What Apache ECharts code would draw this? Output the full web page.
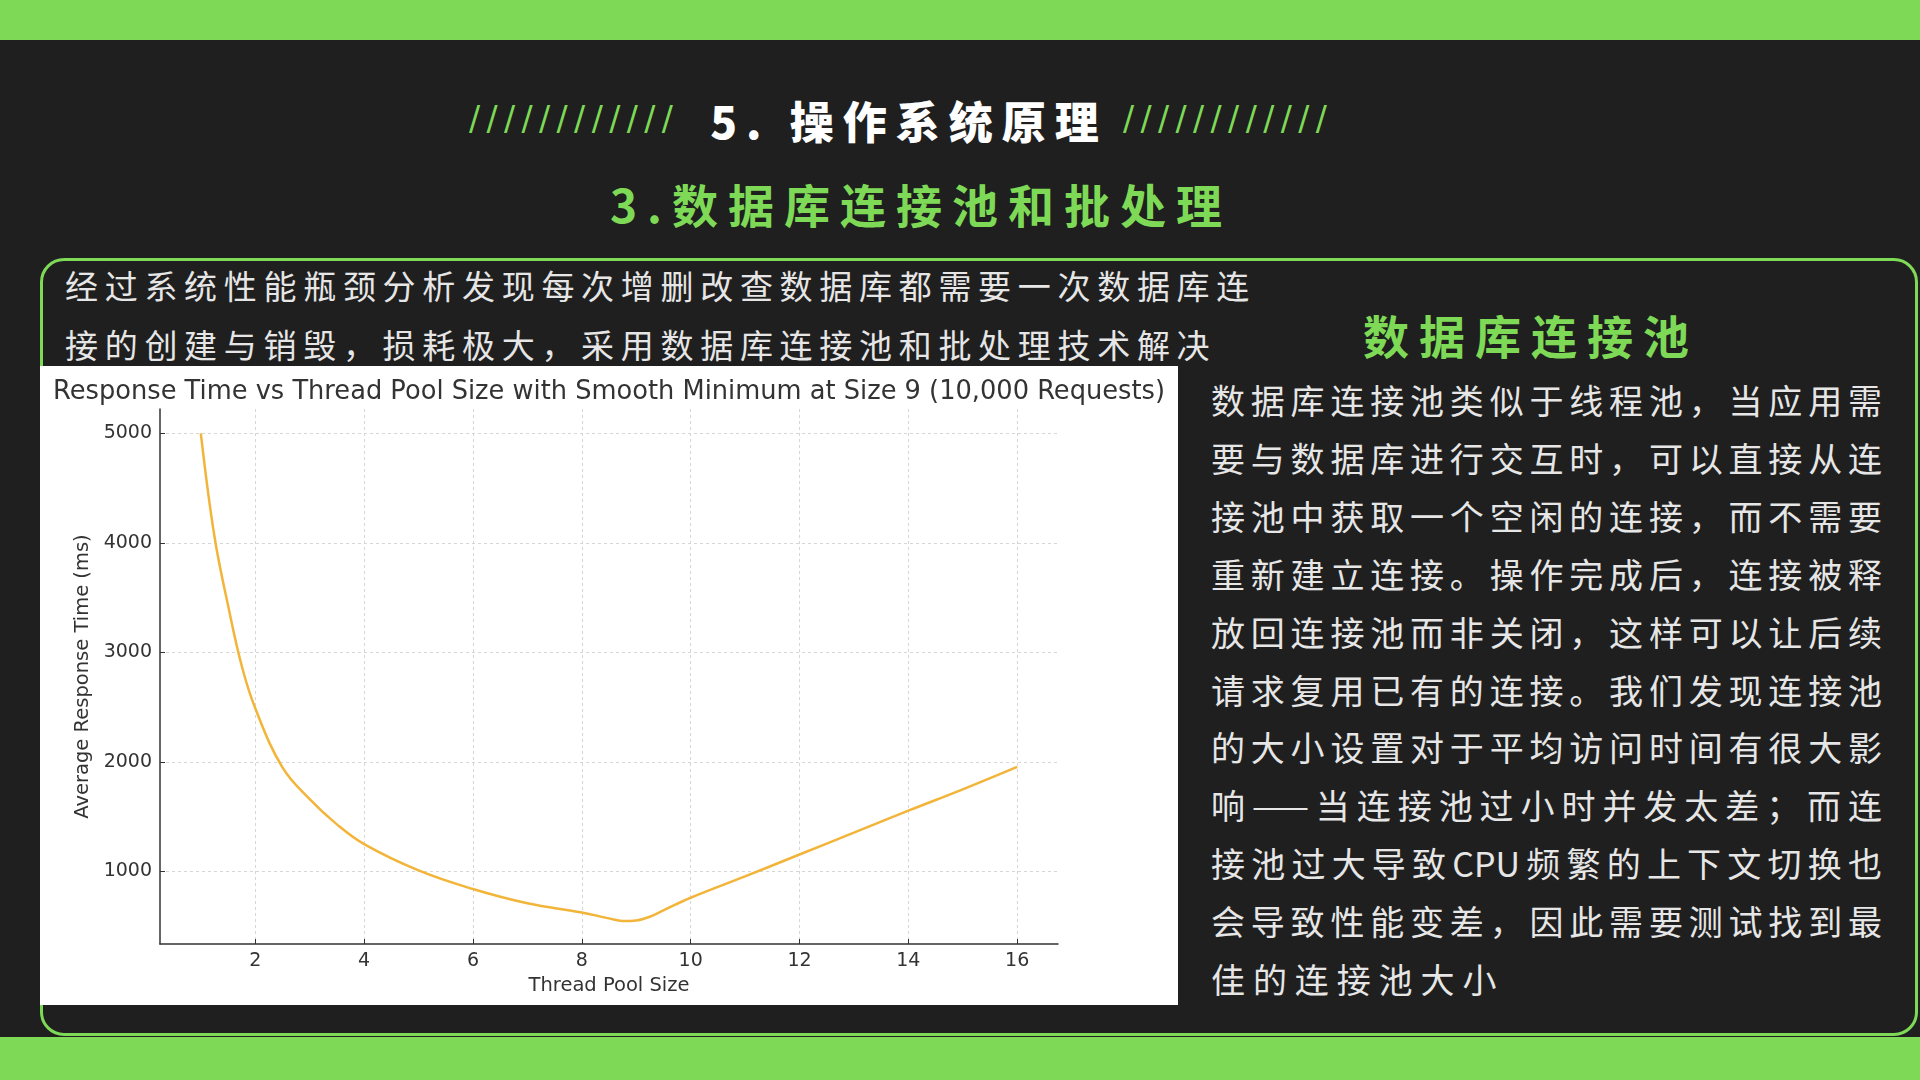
<!DOCTYPE html>
<html>
<head>
<meta charset="utf-8">
<script src="https://cdn.jsdelivr.net/npm/echarts@6/dist/echarts.min.js"></script>
<style>
  html, body { margin: 0; padding: 0; }
  body {
    width: 1920px; height: 1080px; position: relative; overflow: hidden;
    background: #1f1f1f; font-family: "Noto Sans CJK SC", sans-serif;
  }
  .abs { position: absolute; white-space: nowrap; }
  .bar { position: absolute; left: 0; width: 1920px; background: #7ed957; }
  .slash { color: #7ed957; font-family: "DejaVu Sans"; font-size: 33px; letter-spacing: 6.4px; line-height: 40px; }
  .intro { left: 65px; color: #e6e6e6; font-size: 33px; letter-spacing: 6.7px; line-height: 58px; }
  .para { left: 1211px; width: 671px; color: #e6e6e6; font-size: 34px; line-height: 58px;
          text-align: justify; text-align-last: justify; }
  #chart { position: absolute; left: 40px; top: 366px; width: 1138px; height: 639px; background: #fff; }
</style>
</head>
<body>
<div class="bar" style="top:0;height:40px"></div>
<div class="bar" style="top:1037px;height:43px"></div>

<div class="abs slash" style="left:469px;top:99px">////////////</div>
<div class="abs slash" style="left:1123px;top:99px">////////////</div>
<div class="abs" style="left:652px;width:496px;top:92px;line-height:56px;text-align:center;color:#fff;font-size:44px;font-weight:900;letter-spacing:9px;padding-left:9px">5. 操作系统原理</div>
<div class="abs" style="left:554px;width:714px;top:175px;line-height:56px;text-align:center;color:#7ed957;font-size:46px;font-weight:700;letter-spacing:10px;padding-left:10px">3.数据库连接池和批处理</div>

<div class="abs" style="left:40px;top:258px;width:1878px;height:778px;box-sizing:border-box;border:3px solid #7ed957;border-radius:24px"></div>

<div class="abs intro" style="top:256px">经过系统性能瓶颈分析发现每次增删改查数据库都需要一次数据库连</div>
<div class="abs intro" style="top:315px">接的创建与销毁，损耗极大，采用数据库连接池和批处理技术解决</div>

<div class="abs" style="left:1290px;width:462px;top:303px;line-height:62px;text-align:center;color:#7ed957;font-size:46px;font-weight:700;letter-spacing:10px;padding-left:10px">数据库连接池</div>

<div id="para"></div>
<div id="chart"></div>

<script>
// right-hand paragraph, one entry per printed line
const paraLines = [
  '数据库连接池类似于线程池，当应用需',
  '要与数据库进行交互时，可以直接从连',
  '接池中获取一个空闲的连接，而不需要',
  '重新建立连接。操作完成后，连接被释',
  '放回连接池而非关闭，这样可以让后续',
  '请求复用已有的连接。我们发现连接池',
  '的大小设置对于平均访问时间有很大影',
  '响——当连接池过小时并发太差；而连',
  '接池过大导致CPU频繁的上下文切换也',
  '会导致性能变差，因此需要测试找到最',
  '佳的连接池大小'
];
{
  const box = document.querySelector('#para');
  paraLines.forEach((t, i) => {
    const d = document.createElement('div');
    d.className = 'abs para';
    d.style.top = (371 + i * 57.9) + 'px';
    if (i === paraLines.length - 1) {
      d.style.textAlign = 'left';
      d.style.textAlignLast = 'left';
      d.style.letterSpacing = '7.9px';
    }
    d.textContent = t;
    box.appendChild(d);
  });
}

// chart data
const poolSizes = [1, 1.25, 1.5, 1.75, 2, 2.5, 3, 3.5, 4, 5, 6, 7, 8, 8.5, 8.75, 9, 9.25, 9.5, 10, 11, 12, 13, 14, 15, 16];
const respTimes = [5000, 4060, 3430, 2880, 2490, 1950, 1660, 1430, 1250, 1010, 840, 710, 625, 572, 548, 553, 587, 645, 760, 955, 1155, 1355, 1555, 1750, 1955];
const xTicks = [2, 4, 6, 8, 10, 12, 14, 16];
const yTicks = [1000, 2000, 3000, 4000, 5000];

{
  const font = 'DejaVu Sans';
  const grey = '#333';
  const chart = echarts.init(document.querySelector('#chart'));
  const option = {
    animation: false,
    title: {
      text: 'Response Time vs Thread Pool Size with Smooth Minimum at Size 9 (10,000 Requests)',
      left: 'center',
      top: 8,
      textStyle: { fontFamily: font, fontSize: 25.7, fontWeight: 'normal', color: grey }
    },
    grid: { left: 120, right: 120, top: 43, bottom: 61 },
    xAxis: {
      type: 'value',
      min: 0.25,
      max: 16.75,
      name: 'Thread Pool Size',
      nameLocation: 'middle',
      nameGap: 31,
      nameTextStyle: { fontFamily: font, fontSize: 19.5, color: grey },
      axisLine: { lineStyle: { color: grey, width: 1.5 } },
      axisTick: { inside: true, length: 5, customValues: xTicks, lineStyle: { color: grey } },
      axisLabel: { customValues: xTicks, fontFamily: font, fontSize: 19, color: grey, margin: 8 },
      splitLine: { show: true, lineStyle: { color: '#d6d6d6', type: [3, 3] } }
    },
    yAxis: {
      type: 'value',
      min: 338,
      max: 5222,
      name: 'Average Response Time (ms)',
      nameLocation: 'middle',
      nameRotate: 90,
      nameGap: 58,
      nameTextStyle: { fontFamily: font, fontSize: 19.5, color: grey },
      axisLine: { show: true, lineStyle: { color: grey, width: 1.5 } },
      axisTick: { show: true, inside: true, length: 5, customValues: yTicks, lineStyle: { color: grey } },
      axisLabel: {
        customValues: yTicks, fontFamily: font, fontSize: 19, color: grey, margin: 8,
        formatter: (v) => String(v)
      },
      splitLine: { show: true, lineStyle: { color: '#d6d6d6', type: [3, 3] } }
    },
    series: [{
      type: 'line',
      data: poolSizes.map((x, i) => [x, respTimes[i]]),
      smooth: 0.4,
      showSymbol: false,
      lineStyle: { color: '#f2b53a', width: 2.5 }
    }]
  };
  chart.setOption(option);
}
</script>
</body>
</html>
